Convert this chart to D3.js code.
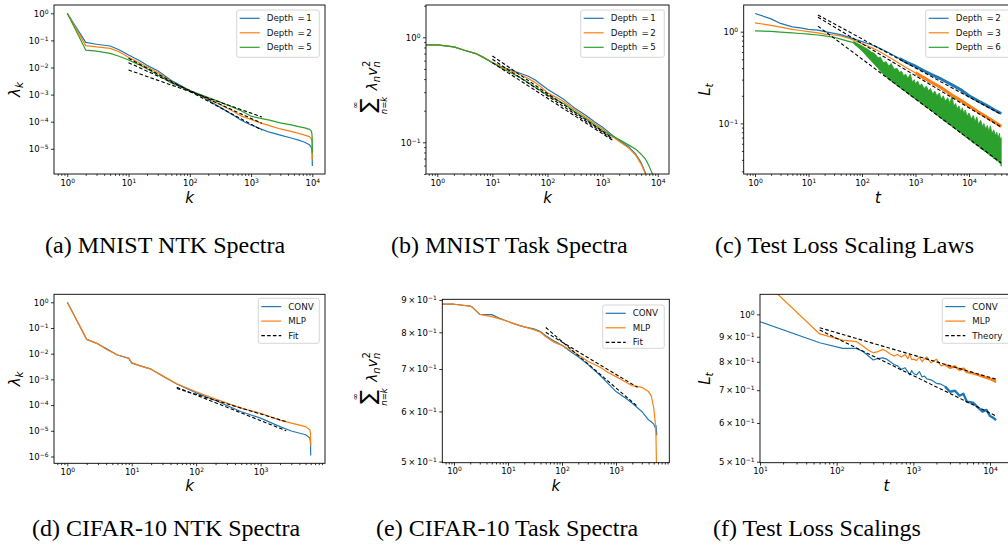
<!DOCTYPE html>
<html>
<head>
<meta charset="utf-8">
<script src="https://cdn.jsdelivr.net/npm/d3@7"></script>
<style>
  body { margin: 0; background: #fff; }
  svg { display: block; }
</style>
</head>
<body>
<svg id="fig" width="1008" height="546"></svg>
<script>
'use strict';

// ---- (a) MNIST NTK spectra ----
var aK      = [1, 2, 3, 5, 7, 10, 15, 20, 30, 50, 70, 100, 150, 200, 300, 500, 700, 1000, 1500, 2000, 3000, 4500, 6000, 7500, 9000, 9600, 9850, 9950, 10000];
var aDepth1 = [1.0, 0.085, 0.072, 0.062, 0.045, 0.029, 0.018, 0.012, 0.0076, 0.0033, 0.0022, 0.0014, 0.0009, 0.00062, 0.00036, 0.00018, 0.00011, 7.6e-5, 5.2e-5, 4.1e-5, 3.2e-5, 2.5e-5, 2.1e-5, 1.75e-5, 1.4e-5, 1.15e-5, 9e-6, 6e-6, 2.3e-6];
var aDepth2 = [1.0, 0.064, 0.058, 0.051, 0.038, 0.024, 0.015, 0.0105, 0.0065, 0.003, 0.002, 0.0014, 0.00093, 0.00068, 0.00045, 0.00025, 0.00016, 0.00012, 8.7e-5, 7.2e-5, 5.4e-5, 4.4e-5, 3.7e-5, 3.2e-5, 2.8e-5, 2.4e-5, 1.9e-5, 1.3e-5, 4e-6];
var aDepth5 = [1.0, 0.044, 0.04, 0.033, 0.026, 0.019, 0.0125, 0.009, 0.0053, 0.0027, 0.0019, 0.0014, 0.001, 0.00077, 0.00055, 0.00034, 0.00025, 0.00016, 0.00013, 0.000115, 9e-5, 7.6e-5, 6.6e-5, 5.9e-5, 5.2e-5, 4.6e-5, 3.6e-5, 2.4e-5, 6.8e-6];
var aFitK = [10, 1500];
var aFit1 = [0.022, 4.9e-5];
var aFit2 = [0.015, 8.7e-5];
var aFit5 = [0.0081, 1.5e-4];

// ---- (b) MNIST task spectra ----
var bK      = [0.6, 1, 2, 3, 5, 7, 10, 15, 20, 30, 45, 60, 80, 100, 150, 200, 300, 500, 700, 1000, 1500, 2000, 3000, 4000, 5000, 6000, 6500, 7000, 8000, 8500];
var bDepth1 = [0.845, 0.845, 0.81, 0.757, 0.70, 0.64, 0.575, 0.52, 0.495, 0.46, 0.425, 0.392, 0.35, 0.32, 0.28, 0.255, 0.215, 0.18, 0.158, 0.139, 0.117, 0.104, 0.09, 0.077, 0.064, 0.051, 0.042, 0.032, 0.02, 0.015];
var bDepth2 = [0.845, 0.845, 0.81, 0.757, 0.70, 0.64, 0.575, 0.515, 0.487, 0.447, 0.405, 0.37, 0.33, 0.297, 0.265, 0.243, 0.206, 0.172, 0.152, 0.134, 0.114, 0.102, 0.088, 0.075, 0.062, 0.05, 0.041, 0.031, 0.02, 0.015];
var bDepth5 = [0.845, 0.845, 0.81, 0.757, 0.70, 0.64, 0.573, 0.505, 0.47, 0.42, 0.37, 0.334, 0.305, 0.282, 0.252, 0.233, 0.199, 0.167, 0.147, 0.129, 0.115, 0.106, 0.094, 0.086, 0.077, 0.069, 0.064, 0.059, 0.05, 0.04];
var bFitK = [10, 1500];
var bFit1 = [0.664, 0.11];
var bFit2 = [0.617, 0.108];
var bFit5 = [0.573, 0.105];

// ---- (c) test loss scaling laws ----
var cT      = [1, 2, 3, 5, 7, 10, 15, 20, 30, 40, 60, 100, 150, 200, 300, 500, 700, 1000, 1500, 2000, 3000, 5000, 7000, 10000, 15000, 20000, 30000, 40000];
var cDepth2 = [1.58, 1.38, 1.23, 1.13, 1.1, 1.06, 1.04, 1.0, 0.96, 0.93, 0.86, 0.78, 0.72, 0.67, 0.6, 0.51, 0.46, 0.42, 0.37, 0.34, 0.305, 0.26, 0.233, 0.2, 0.175, 0.16, 0.14, 0.128];
var cDepth3 = [1.25, 1.17, 1.12, 1.06, 1.03, 1.0, 0.97, 0.94, 0.92, 0.9, 0.84, 0.74, 0.67, 0.62, 0.54, 0.45, 0.4, 0.355, 0.31, 0.28, 0.245, 0.2, 0.178, 0.155, 0.133, 0.12, 0.103, 0.093];
var cDepth6T = [1, 2, 3, 5, 7, 10, 15, 20, 30, 40, 50, 70, 100];
var cDepth6  = [1.02, 1.01, 0.99, 0.97, 0.955, 0.94, 0.92, 0.9, 0.87, 0.83, 0.8, 0.76, 0.66];
// noisy depth-6 run: upper and lower edge of the band
var cBandT  = [70, 100, 130, 150, 170, 200, 220, 250, 280, 320, 350, 400, 450, 500, 550, 600, 650, 720, 800, 870, 950, 1000, 1100, 1200, 1300, 1450, 1600, 1750, 1900, 2100, 2300, 2500, 2800, 3000, 3300, 3600, 4000, 4400, 4800, 5200, 5600, 6000, 6500, 7000, 7500, 8000, 8500, 9200, 10000, 11000, 12000, 13000, 14000, 15000, 16500, 18000, 19000, 20500, 22000, 23500, 25000, 27000, 29000, 31000, 33000, 35000, 37000, 38500, 40000];
var cBandHi = [0.78, 0.70, 0.64, 0.60, 0.58, 0.52, 0.53, 0.46, 0.47, 0.42, 0.45, 0.39, 0.40, 0.36, 0.37, 0.33, 0.345, 0.31, 0.345, 0.285, 0.30, 0.27, 0.29, 0.255, 0.27, 0.24, 0.255, 0.225, 0.24, 0.21, 0.225, 0.2, 0.215, 0.185, 0.2, 0.175, 0.19, 0.165, 0.2, 0.155, 0.165, 0.145, 0.155, 0.135, 0.148, 0.128, 0.14, 0.12, 0.13, 0.112, 0.122, 0.105, 0.118, 0.098, 0.108, 0.092, 0.1, 0.087, 0.095, 0.082, 0.094, 0.078, 0.085, 0.074, 0.08, 0.07, 0.078, 0.066, 0.07];
var cBandLo = [0.74, 0.62, 0.52, 0.48, 0.44, 0.40, 0.37, 0.345, 0.325, 0.30, 0.29, 0.275, 0.258, 0.25, 0.236, 0.232, 0.22, 0.213, 0.2, 0.196, 0.186, 0.184, 0.175, 0.171, 0.163, 0.157, 0.148, 0.145, 0.138, 0.134, 0.127, 0.124, 0.116, 0.114, 0.108, 0.106, 0.099, 0.097, 0.092, 0.09, 0.086, 0.085, 0.08, 0.079, 0.075, 0.075, 0.071, 0.07, 0.066, 0.065, 0.061, 0.06, 0.057, 0.057, 0.053, 0.052, 0.05, 0.049, 0.047, 0.046, 0.044, 0.044, 0.041, 0.041, 0.039, 0.039, 0.037, 0.0375, 0.034];
var cFitT = [15, 40000];
var cFit2 = [1.52, 0.125];
var cFit3 = [1.44, 0.091];
var cFit6 = [1.15, 0.037];

// ---- (d) CIFAR-10 NTK spectra ----
var dK    = [1, 2, 3, 4, 6, 9, 10, 14, 20, 30, 50, 100, 200, 500, 1000, 2000, 3000, 5000, 5800, 5950, 6000];
var dConv = [1.0, 0.036, 0.024, 0.016, 0.0089, 0.0066, 0.0043, 0.0033, 0.0025, 0.00135, 0.00066, 0.0003, 0.00015, 5.5e-5, 3.1e-5, 1.45e-5, 9.8e-6, 7.0e-6, 5.3e-6, 3.5e-6, 1.1e-6];
var dMlp  = [1.0, 0.036, 0.024, 0.015, 0.0089, 0.0068, 0.0045, 0.0033, 0.0025, 0.0014, 0.00068, 0.00033, 0.00017, 7.6e-5, 4.8e-5, 2.6e-5, 2.0e-5, 1.45e-5, 1.1e-5, 8e-6, 2.6e-6];
var dFitK = [50, 2500];
var dFitConv = [4.9e-4, 1.0e-5];
var dFitMlp  = [4.4e-4, 2.25e-5];

// ---- (e) CIFAR-10 task spectra ----
var eK    = [0.6, 1, 2, 2.2, 3, 5, 7, 10, 15, 20, 30, 40, 50, 70, 100, 150, 200, 300, 500, 700, 1000, 1500, 2000, 3000, 4000, 4500, 5000, 5300, 5500, 5600, 5700];
var eConv = [0.886, 0.886, 0.880, 0.876, 0.854, 0.853, 0.842, 0.832, 0.822, 0.816, 0.81, 0.802, 0.79, 0.776, 0.763, 0.744, 0.732, 0.712, 0.685, 0.665, 0.645, 0.63, 0.618, 0.600, 0.582, 0.578, 0.573, 0.566, 0.57, 0.56, 0.55];
var eMlp  = [0.886, 0.886, 0.880, 0.876, 0.854, 0.847, 0.840, 0.832, 0.822, 0.816, 0.808, 0.8, 0.787, 0.772, 0.763, 0.748, 0.737, 0.72, 0.705, 0.692, 0.681, 0.668, 0.659, 0.655, 0.645, 0.635, 0.607, 0.58, 0.55, 0.5, 0.45];
var eFitK = [50, 2500];
var eFitConv = [0.814, 0.611];
var eFitMlp  = [0.80, 0.655];

// ---- (f) test loss scalings ----
var fT    = [10, 60, 120, 180, 220, 260, 300, 340, 400, 450, 500, 560, 620, 700, 780, 850, 900, 950, 1000, 1100, 1200, 1300, 1400, 1500, 1700, 2000, 2300, 2600, 3000, 3500, 4000, 4500, 5000, 6000, 7000, 8000, 9000, 10000, 11000, 12000];
var fConv = [0.966, 0.875, 0.852, 0.852, 0.84, 0.822, 0.807, 0.812, 0.815, 0.81, 0.8, 0.79, 0.785, 0.772, 0.778, 0.762, 0.752, 0.768, 0.758, 0.752, 0.764, 0.745, 0.748, 0.738, 0.735, 0.723, 0.72, 0.712, 0.695, 0.698, 0.682, 0.688, 0.663, 0.66, 0.645, 0.633, 0.638, 0.62, 0.615, 0.608];
var fMlp  = [1.19, 0.912, 0.886, 0.88, 0.862, 0.845, 0.835, 0.838, 0.848, 0.84, 0.83, 0.822, 0.828, 0.818, 0.828, 0.812, 0.83, 0.808, 0.81, 0.805, 0.818, 0.8, 0.812, 0.818, 0.796, 0.81, 0.785, 0.79, 0.778, 0.783, 0.77, 0.775, 0.762, 0.758, 0.752, 0.746, 0.742, 0.738, 0.733, 0.728];
var fFitT = [60, 12000];
var fFitConv = [0.929, 0.62];
var fFitMlp  = [0.939, 0.737];

// ---- ticks ----
var ticksK4 = [1, 10, 100, 1000, 10000];
var ticksK3 = [1, 10, 100, 1000];
var ticksT  = [10, 100, 1000, 10000];
var ticksY5 = [1, 0.1, 0.01, 1e-3, 1e-4, 1e-5];
var ticksY6 = [1, 0.1, 0.01, 1e-3, 1e-4, 1e-5, 1e-6];
var ticksY1 = [1, 0.1];
var ticksYe = [0.5, 0.6, 0.7, 0.8, 0.9];
var ticksYf = [1, 0.9, 0.8, 0.7, 0.6, 0.5];

var BLUE = '#1f77b4', ORANGE = '#ff7f0e', GREEN = '#2ca02c';
var FONT = '"DejaVu Sans", sans-serif';
var svg = d3.select('#fig');

function minorTicks(dom) {
  var out = [];
  for (var e = Math.floor(Math.log10(dom[0])); e <= Math.ceil(Math.log10(dom[1])); e++) {
    for (var m = 2; m < 10; m++) {
      var v = m * Math.pow(10, e);
      if (v >= dom[0] && v <= dom[1]) out.push(v);
    }
  }
  return out;
}

// "10^e" or "m x 10^e" with a real superscript
function powLabel(text, v) {
  var e = Math.floor(Math.log10(v) + 1e-9);
  var m = Math.round(v / Math.pow(10, e));
  text.text(null);
  text.append('tspan').text(m === 1 ? '10' : m + '\u2009\u00d7\u200910');
  text.append('tspan').attr('dy', '-0.5em').attr('font-size', '6px')
    .text(String(e).replace('-', '\u2212'));
}

function makePanel(p) {
  var x = d3.scaleLog().domain(p.xd).range([p.x0, p.x1]);
  var y = d3.scaleLog().domain(p.yd).range([p.y1, p.y0]);
  var g = svg.append('g').attr('color', '#000');
  var cid = 'clip-' + p.id;
  g.append('clipPath').attr('id', cid).append('rect')
    .attr('x', p.x0).attr('y', p.y0)
    .attr('width', p.x1 - p.x0).attr('height', p.y1 - p.y0);

  g.append('g').attr('transform', 'translate(0,' + p.y1 + ')')
    .call(d3.axisBottom(x).tickValues(minorTicks(p.xd)).tickSize(1.8).tickFormat(''));
  var xa = g.append('g').attr('transform', 'translate(0,' + p.y1 + ')')
    .call(d3.axisBottom(x).tickValues(p.xt).tickSize(3).tickPadding(2.5));
  xa.selectAll('.tick text').each(function(d) { powLabel(d3.select(this), d); });

  if (p.yMinor) {
    g.append('g').attr('transform', 'translate(' + p.x0 + ',0)')
      .call(d3.axisLeft(y).tickValues(minorTicks(p.yd)).tickSize(1.8).tickFormat(''));
  }
  var ya = g.append('g').attr('transform', 'translate(' + p.x0 + ',0)')
    .call(d3.axisLeft(y).tickValues(p.yt).tickSize(3).tickPadding(2.5));
  ya.selectAll('.tick text').each(function(d) { powLabel(d3.select(this), d); });

  g.selectAll('.domain').remove();
  g.selectAll('.tick line').attr('stroke-width', 0.8);
  g.selectAll('.tick text').attr('font-family', FONT).attr('font-size', 8.5).attr('fill', '#000');
  g.selectAll('g[font-size]').attr('font-size', 8.5).attr('font-family', FONT);

  var plot = g.append('g').attr('clip-path', 'url(#' + cid + ')');
  return { g: g, x: x, y: y, plot: plot, p: p };
}

function frame(P) {
  var p = P.p;
  P.g.append('rect').attr('x', p.x0).attr('y', p.y0)
    .attr('width', p.x1 - p.x0).attr('height', p.y1 - p.y0)
    .attr('fill', 'none').attr('stroke', '#000').attr('stroke-width', 0.9);
}

function drawLine(P, xs, ys, color, w, dash, from) {
  var pts = xs.map(function(v, i) { return [v, ys[i]]; })
    .filter(function(d) { return from == null || d[0] >= from; });
  P.plot.append('path').datum(pts)
    .attr('fill', 'none').attr('stroke', color).attr('stroke-width', w)
    .attr('stroke-linejoin', 'round')
    .attr('stroke-dasharray', dash || null)
    .attr('d', d3.line().x(function(d) { return P.x(d[0]); }).y(function(d) { return P.y(d[1]); }));
}

function drawFit(P, xs, ys) {
  drawLine(P, xs, ys, '#000', 1.1, '3.6,2.2');
}

function drawBand(P, xs, lo, hi, color) {
  var pts = xs.map(function(v, i) { return [v, lo[i], hi[i]]; });
  P.plot.append('path').datum(pts)
    .attr('fill', color).attr('stroke', color).attr('stroke-width', 0.8)
    .attr('stroke-linejoin', 'bevel')
    .attr('d', d3.area()
      .x(function(d) { return P.x(d[0]); })
      .y0(function(d) { return P.y(d[1]); })
      .y1(function(d) { return P.y(d[2]); }));
}

function legend(box, items) {
  var lg = svg.append('g').attr('font-family', FONT).attr('font-size', 8.7);
  lg.append('rect').attr('x', box[0]).attr('y', box[1]).attr('width', box[2]).attr('height', box[3])
    .attr('rx', 2).attr('fill', '#fff').attr('fill-opacity', 0.8)
    .attr('stroke', '#cccccc').attr('stroke-width', 0.8);
  items.forEach(function(it, i) {
    var yy = box[1] + 8.3 + i * 14.5;
    lg.append('line').attr('x1', box[0] + 3).attr('x2', box[0] + 23)
      .attr('y1', yy).attr('y2', yy)
      .attr('stroke', it[1]).attr('stroke-width', 1.2)
      .attr('stroke-dasharray', it[2] ? '3.6,2.2' : null);
    lg.append('text').attr('x', box[0] + 30).attr('y', yy).attr('dy', '0.35em')
      .attr('fill', '#111').text(it[0]);
  });
}

function xLabel(cx, base, s) {
  svg.append('text').attr('x', cx).attr('y', base).attr('text-anchor', 'middle')
    .attr('font-family', FONT).attr('font-style', 'italic').attr('font-size', 15).text(s);
}

function yLabel(cx, cy, main, sub) {
  var t = svg.append('text')
    .attr('transform', 'translate(' + cx + ',' + cy + ') rotate(-90)')
    .attr('text-anchor', 'middle').attr('font-family', FONT)
    .attr('font-style', 'italic').attr('font-size', 15);
  t.append('tspan').text(main);
  t.append('tspan').attr('font-size', 10.5).attr('dy', 3).text(sub);
}

// sum_{n=k}^{inf} lambda_n v_n^2, rotated
function sumLabel(cx, cy) {
  var g = svg.append('g')
    .attr('transform', 'translate(' + cx + ',' + cy + ') rotate(-90)')
    .attr('font-family', FONT).attr('fill', '#000');
  g.append('text').attr('x', -16).attr('y', 3).attr('text-anchor', 'middle')
    .attr('font-size', 21).text('\u2211');
  g.append('text').attr('x', -16).attr('y', -14).attr('text-anchor', 'middle')
    .attr('font-size', 8.5).text('\u221e');
  g.append('text').attr('x', -16).attr('y', 15).attr('text-anchor', 'middle')
    .attr('font-size', 8.5).attr('font-style', 'italic').text('n=k');
  var t = g.append('text').attr('x', -1).attr('y', 5).attr('font-size', 14).attr('font-style', 'italic');
  t.append('tspan').text('\u03bb');
  t.append('tspan').attr('font-size', 10).attr('dy', 3).text('n');
  t.append('tspan').attr('dy', -3).text('v');
  t.append('tspan').attr('font-size', 10).attr('dy', 3).text('n');
  t.append('tspan').attr('font-size', 10).attr('font-style', 'normal')
    .attr('dx', -5.8).attr('dy', -10).text('2');
}

function caption(x, base, s) {
  svg.append('text').attr('x', x).attr('y', base)
    .attr('font-family', '"Liberation Serif", "Times New Roman", serif')
    .attr('font-size', 24).attr('fill', '#000').text(s);
}

// ---- (a) ----
var A = makePanel({ id: 'a', x0: 54, x1: 325, y0: 5, y1: 174,
  xd: [0.607, 16100], yd: [1.175e-6, 2.023], xt: ticksK4, yt: ticksY5 });
drawLine(A, aK, aDepth1, BLUE, 1.2);
drawLine(A, aK, aDepth2, ORANGE, 1.2);
drawLine(A, aK, aDepth5, GREEN, 1.2);
drawFit(A, aFitK, aFit1);
drawFit(A, aFitK, aFit2);
drawFit(A, aFitK, aFit5);
frame(A);
legend([236.7, 10, 82.6, 47.3], [['Depth\u2002=\u20061', BLUE], ['Depth\u2002=\u20062', ORANGE], ['Depth\u2002=\u20065', GREEN]]);
xLabel(189.5, 203, 'k');
yLabel(19.5, 89.5, '\u03bb', 'k');

// ---- (b) ----
var B = makePanel({ id: 'b', x0: 426, x1: 669, y0: 5, y1: 174,
  xd: [0.624, 16030], yd: [0.0499, 2.03], xt: ticksK4, yt: ticksY1, yMinor: true });
drawLine(B, bK, bDepth1, BLUE, 1.2);
drawLine(B, bK, bDepth2, ORANGE, 1.2);
drawLine(B, bK, bDepth5, GREEN, 1.2);
drawFit(B, bFitK, bFit1);
drawFit(B, bFitK, bFit2);
drawFit(B, bFitK, bFit5);
frame(B);
legend([580.7, 10, 83.6, 47.3], [['Depth\u2002=\u20061', BLUE], ['Depth\u2002=\u20062', ORANGE], ['Depth\u2002=\u20065', GREEN]]);
xLabel(547.5, 203, 'k');
sumLabel(372, 89.5);

// ---- (c) ----
var C = makePanel({ id: 'c', x0: 743.7, x1: 1013, y0: 5, y1: 174,
  xd: [0.615, 66370], yd: [0.02805, 1.954], xt: ticksK4, yt: ticksY1, yMinor: true });
drawLine(C, cDepth6T, cDepth6, GREEN, 1.2);
drawBand(C, cBandT, cBandLo, cBandHi, GREEN);
drawLine(C, cT, cDepth3, ORANGE, 1.2);
drawLine(C, cT, cDepth3, ORANGE, 3.2, null, 1000);
drawLine(C, cT, cDepth2, BLUE, 1.2);
drawLine(C, cT, cDepth2, BLUE, 3, null, 500);
drawFit(C, cFitT, cFit2);
drawFit(C, cFitT, cFit3);
drawFit(C, cFitT, cFit6);
frame(C);
legend([925.7, 10, 90, 47.3], [['Depth\u2002=\u20062', BLUE], ['Depth\u2002=\u20063', ORANGE], ['Depth\u2002=\u20066', GREEN]]);
xLabel(878, 203, 't');
yLabel(710, 89.5, 'L', 't');

// ---- (d) ----
var D = makePanel({ id: 'd', x0: 54, x1: 325, y0: 294.3, y1: 463.3,
  xd: [0.6215, 10000], yd: [5.43e-7, 2.046], xt: ticksK3, yt: ticksY6 });
drawLine(D, dK, dConv, BLUE, 1.2);
drawLine(D, dK, dMlp, ORANGE, 1.2);
drawFit(D, dFitK, dFitConv);
drawFit(D, dFitK, dFitMlp);
frame(D);
legend([258.3, 298.3, 61, 45], [['CONV', BLUE], ['MLP', ORANGE], ['Fit', '#000', true]]);
xLabel(189.5, 491, 'k');
yLabel(19.5, 378.8, '\u03bb', 'k');

// ---- (e) ----
var E = makePanel({ id: 'e', x0: 442.3, x1: 669.3, y0: 299.3, y1: 462.7,
  xd: [0.607, 9705], yd: [0.498, 0.902], xt: ticksK3, yt: ticksYe });
drawLine(E, eK, eConv, BLUE, 1.2);
drawLine(E, eK, eMlp, ORANGE, 1.2);
drawFit(E, eFitK, eFitConv);
drawFit(E, eFitK, eFitMlp);
frame(E);
legend([602.7, 305, 61.6, 43.3], [['CONV', BLUE], ['MLP', ORANGE], ['Fit', '#000', true]]);
xLabel(555.8, 491, 'k');
sumLabel(372, 381);

// ---- (f) ----
var F = makePanel({ id: 'f', x0: 760, x1: 1013, y0: 294.3, y1: 462.7,
  xd: [10, 19950], yd: [0.4977, 1.099], xt: ticksT, yt: ticksYf });
drawLine(F, fT, fConv, BLUE, 1.2);
drawLine(F, fT, fConv, BLUE, 2.4, null, 2500);
drawLine(F, fT, fMlp, ORANGE, 1.2);
drawLine(F, fT, fMlp, ORANGE, 2.4, null, 2500);
drawFit(F, fFitT, fFitConv);
drawFit(F, fFitT, fFitMlp);
frame(F);
legend([942.3, 298.3, 75, 45], [['CONV', BLUE], ['MLP', ORANGE], ['Theory', '#000', true]]);
xLabel(886.5, 491, 't');
yLabel(710, 378.5, 'L', 't');

// ---- captions ----
caption(45, 253.3, '(a) MNIST NTK Spectra');
caption(391, 253.3, '(b) MNIST Task Spectra');
caption(715, 253.3, '(c) Test Loss Scaling Laws');
caption(32, 535.7, '(d) CIFAR-10 NTK Spectra');
caption(376, 535.7, '(e) CIFAR-10 Task Spectra');
caption(713, 535.7, '(f) Test Loss Scalings');
</script>
</body>
</html>
